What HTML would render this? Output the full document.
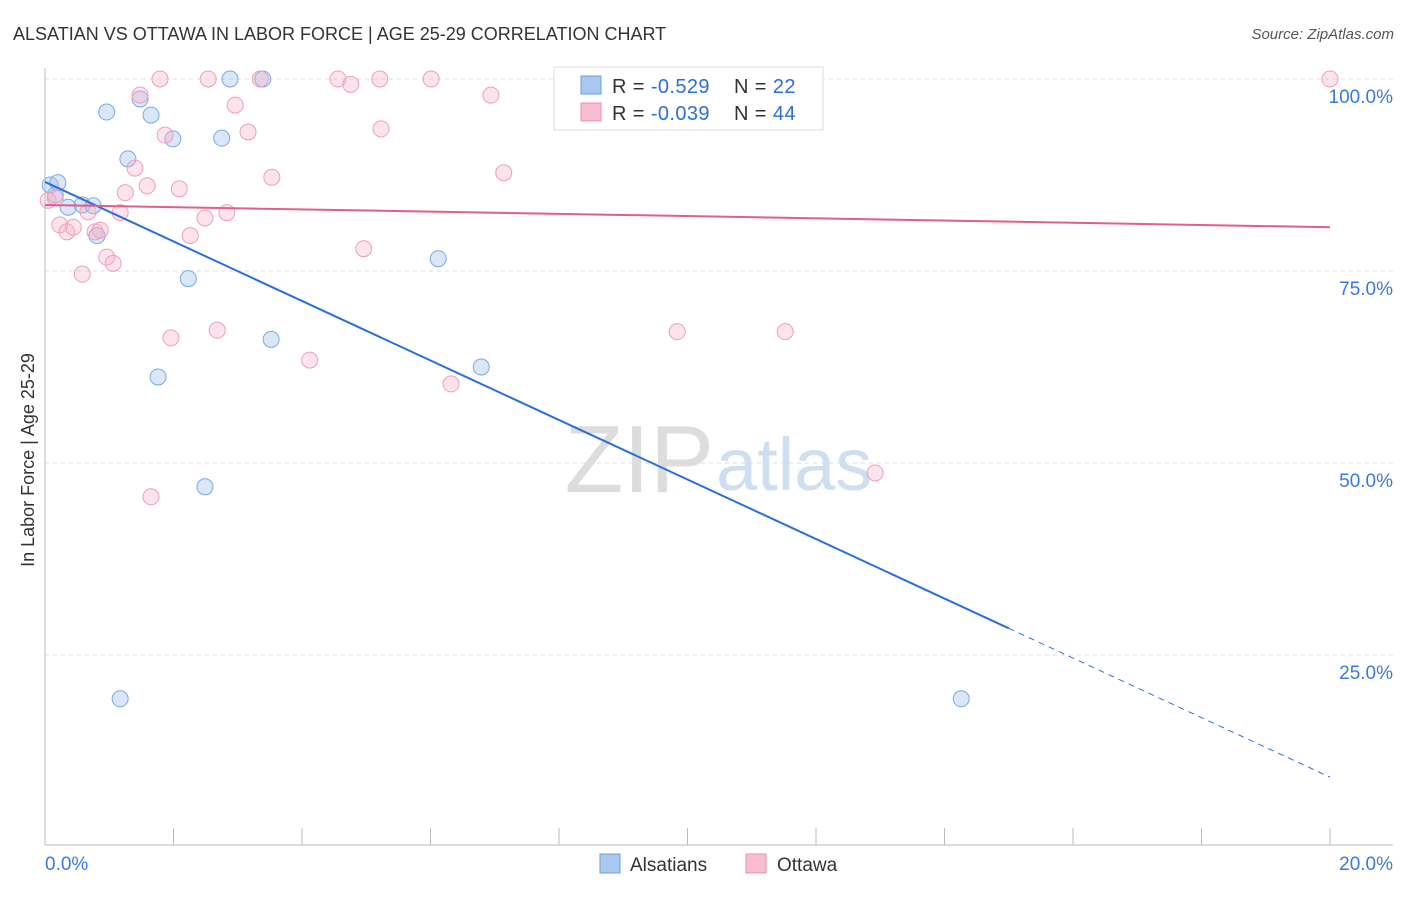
<!DOCTYPE html>
<html><head><meta charset="utf-8"><style>
body{margin:0;background:#fff;font-family:"Liberation Sans",sans-serif;}
svg text{font-family:"Liberation Sans",sans-serif;}
</style></head><body>
<svg id="chart" width="1406" height="892">
<text x="13" y="40" font-size="18" fill="#333">ALSATIAN VS OTTAWA IN LABOR FORCE | AGE 25-29 CORRELATION CHART</text>
<text x="1394" y="39" font-size="15" fill="#555" font-style="italic" text-anchor="end">Source: ZipAtlas.com</text>
<text x="34" y="460" font-size="18" fill="#333" text-anchor="middle" transform="rotate(-90 34 460)">In Labor Force | Age 25-29</text>
<g id="grid"></g>
<text x="714" y="492" font-size="96" fill="#ddd" text-anchor="end" font-family="Liberation Serif">ZIP</text>
<text x="716" y="490" font-size="74" fill="#cfdff2">atlas</text>
<g id="marks"></g>
<g>
<rect x="554" y="67" width="269" height="63" fill="#fff" stroke="#ddd"/>
<rect x="581" y="76" width="20" height="18" fill="#a9c8ef" stroke="#6a9fe0"/>
<rect x="581" y="103" width="20" height="18" fill="#f8bdd0" stroke="#e990ad"/>
<text x="612" y="93" font-size="20" fill="#333" letter-spacing="0.4">R = <tspan fill="#2a6fd8">-0.529</tspan></text>
<text x="734" y="93" font-size="20" fill="#333" letter-spacing="0.4">N = <tspan fill="#2a6fd8">22</tspan></text>
<text x="612" y="120" font-size="20" fill="#333" letter-spacing="0.4">R = <tspan fill="#2a6fd8">-0.039</tspan></text>
<text x="734" y="120" font-size="20" fill="#333" letter-spacing="0.4">N = <tspan fill="#2a6fd8">44</tspan></text>
</g>
<g>
<rect x="600" y="854" width="20" height="19" fill="#a9c8ef" stroke="#6a9fe0"/>
<text x="630" y="871" font-size="19" fill="#333">Alsatians</text>
<rect x="746" y="854" width="20" height="19" fill="#f8bdd0" stroke="#e990ad"/>
<text x="777" y="871" font-size="19" fill="#333">Ottawa</text>
</g>
</svg>
<script>
const blueX=[0.08,0.20,0.16,0.36,0.58,0.75,0.81,0.96,1.29,1.48,1.65,1.76,1.99,2.23,2.49,2.75,2.88,3.39,3.52,6.12,6.79,1.17,14.26];
const blueY=[86.2,86.5,84.9,83.3,83.6,83.5,79.6,95.7,89.6,97.4,95.3,61.2,92.2,74.0,46.9,92.3,100,100,66.1,76.6,62.5,19.3,19.3];
const pinkX=[0.05,0.16,0.23,0.34,0.44,0.58,0.67,0.78,0.86,0.96,1.06,1.17,1.25,1.40,1.48,1.59,1.65,1.79,1.87,1.96,2.09,2.26,2.49,2.54,2.68,2.83,2.96,3.16,3.35,3.53,4.12,4.56,4.76,4.96,5.21,5.23,6.01,6.32,6.94,7.14,9.84,11.52,12.92,20];
const pinkY=[84.2,84.5,81.0,80.1,80.7,74.6,82.7,80.1,80.3,76.8,76.0,82.6,85.2,88.4,97.9,86.1,45.6,100,92.7,66.3,85.7,79.6,81.9,100,67.3,82.6,96.6,93.1,100,87.2,63.4,100,99.3,77.9,100,93.5,100,60.3,97.9,87.8,67.1,67.1,48.7,100];
const blueTrend=[86.6,-3.875];
const pinkTrend=[83.6,-0.145];
const yTicks=[100,75,50,25];
const xTickLabels=["0.0%","20.0%"];
const NS="http://www.w3.org/2000/svg";
const sx=v=>45+v/20*1285, sy=v=>847-v/100*768;
function mk(t,a,p){const e=document.createElementNS(NS,t);for(const k in a)e.setAttribute(k,a[k]);p.appendChild(e);return e;}
const g=document.getElementById('grid'), m=document.getElementById('marks');
yTicks.forEach(t=>{
 const l=mk('line',{x1:45,x2:1393,y1:sy(t),y2:sy(t),stroke:'#ddd','stroke-dasharray':'4,4'},g);
 
 
 const tx=mk('text',{x:1393,y:sy(t)+24,'font-size':19,fill:'#3a7ad8','text-anchor':'end'},g);
 tx.textContent=t.toFixed(1)+'%';
 
 
});
mk('line',{x1:45,x2:45,y1:68,y2:845,stroke:'#bbb'},g);
mk('line',{x1:45,x2:1393,y1:845,y2:845,stroke:'#bbb'},g);
for(let i=0;i<=10;i++){const x=sx(i*2);const t=mk('line',{x1:x,x2:x,y1:828,y2:845,stroke:'#bbb'},g);}
const xl0=mk('text',{x:45,y:870,'font-size':19,fill:'#3a7ad8'},g);xl0.textContent=xTickLabels[0];


const xl1=mk('text',{x:1393,y:870,'font-size':19,fill:'#3a7ad8','text-anchor':'end'},g);xl1.textContent=xTickLabels[1];


blueX.forEach((x,i)=>{const c=mk('circle',{cx:sx(x),cy:sy(blueY[i]),r:8,fill:'rgba(160,195,238,0.4)',stroke:'#7aaae4','stroke-width':1},m);
 
 });
pinkX.forEach((x,i)=>{const c=mk('circle',{cx:sx(x),cy:sy(pinkY[i]),r:8,fill:'rgba(245,175,200,0.35)',stroke:'#eea0b9','stroke-width':1},m);
 
 });
const bt=x=>blueTrend[0]+blueTrend[1]*x, pt=x=>pinkTrend[0]+pinkTrend[1]*x;
const b1=mk('line',{x1:sx(0),y1:sy(bt(0)),x2:sx(15),y2:sy(bt(15)),stroke:'#2a6fd8','stroke-width':2},m);


const b2=mk('line',{x1:sx(15),y1:sy(bt(15)),x2:sx(20),y2:sy(bt(20)),stroke:'#2a6fd8','stroke-width':1,'stroke-dasharray':'6,5'},m);


const p1=mk('line',{x1:sx(0),y1:sy(pt(0)),x2:sx(20),y2:sy(pt(20)),stroke:'#e0608a','stroke-width':2},m);


</script>
</body></html>
